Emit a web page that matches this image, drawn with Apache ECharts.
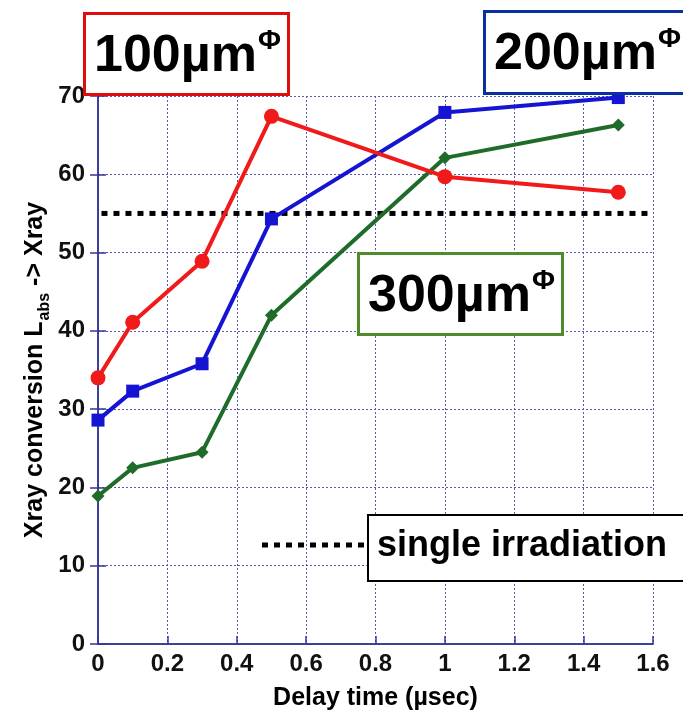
<!DOCTYPE html>
<html>
<head>
<meta charset="utf-8">
<script src="https://cdn.jsdelivr.net/npm/echarts@6/dist/echarts.min.js"></script>
<style>html,body{margin:0;padding:0;background:#fff}#c{width:683px;height:716px}</style>
</head>
<body>
<div id="c"></div>
<script>
// ---- data ----
var delays = [0, 0.1, 0.3, 0.5, 1.0, 1.5];
var um100 = [34.0, 41.1, 48.9, 67.4, 59.7, 57.7];
var um200 = [28.6, 32.3, 35.8, 54.3, 67.9, 69.8];
var um300 = [18.9, 22.5, 24.5, 42.0, 62.1, 66.3];
var singleIrradiation = 55;
var xTickLabels = ['0', '0.2', '0.4', '0.6', '0.8', '1', '1.2', '1.4', '1.6'];
var yTickLabels = ['0', '10', '20', '30', '40', '50', '60', '70'];

function pairs(ys) { return delays.map(function (x, i) { return [x, ys[i]]; }); }

var FONT = '"Liberation Sans", Arial, Helvetica, sans-serif';
var AXC = '#34349a';
var chart = echarts.init(document.getElementById('c'), null, { renderer: 'canvas' });

function boxLabel(x, y, w, h, color, main) {
  return [
    { type: 'rect', left: x, top: y, z: 100,
      shape: { width: w, height: h },
      style: { fill: '#fff', stroke: color, lineWidth: 3 } },
    { type: 'text', left: x + 11, top: y + 15, z: 101,
      style: {
        text: '{m|' + main + '}{s|Φ}',
        rich: {
          m: { fontFamily: FONT, fontWeight: 'bold', fontSize: 52, fill: '#000', verticalAlign: 'bottom', lineHeight: 56 },
          s: { fontFamily: FONT, fontWeight: 'bold', fontSize: 28, fill: '#000', verticalAlign: 'top', lineHeight: 56, padding: [0, 0, 24, 1] }
        }
      } }
  ];
}

var graphics = [].concat(
  boxLabel(83, 12, 204, 81, '#e00d0d', '100µm'),
  boxLabel(483, 10, 215, 82, '#0a2fa0', '200µm'),
  boxLabel(357, 252, 204, 81, '#4f8a2b', '300µm'),
  [
    { type: 'line', z: 100, shape: { x1: 262, y1: 545, x2: 368, y2: 545 },
      style: { stroke: '#000', lineWidth: 5, lineDash: [6, 6] } },
    { type: 'rect', left: 367, top: 514, z: 100, shape: { width: 330, height: 66 },
      style: { fill: '#fff', stroke: '#000', lineWidth: 2 } },
    { type: 'text', left: 377, top: 528, z: 101,
      style: { text: 'single irradiation', fontFamily: FONT, fontWeight: 'bold', fontSize: 36, fill: '#000' } },
    { type: 'text', z: 101, x: 38, y: 370, rotation: Math.PI / 2,
      style: {
        text: '{t|Xray conversion L}{b|abs}{t| -> Xray}',
        align: 'center', verticalAlign: 'middle',
        rich: {
          t: { fontFamily: FONT, fontWeight: 'bold', fontSize: 25, fill: '#000', verticalAlign: 'top', lineHeight: 30 },
          b: { fontFamily: FONT, fontWeight: 'bold', fontSize: 16, fill: '#000', verticalAlign: 'bottom', lineHeight: 30, padding: [14, 0, 0, 1] }
        }
      } }
  ]
);

var option = {
  backgroundColor: '#fff',
  animation: false,
  grid: { left: 98, right: 30, top: 96, bottom: 68, show: false },
  xAxis: [{
    type: 'value', min: 0, max: 1.6, interval: 0.2,
    name: 'Delay time (µsec)', nameLocation: 'middle', nameGap: 42,
    nameTextStyle: { fontFamily: FONT, fontWeight: 'bold', fontSize: 25, color: '#000' },
    axisLine: { show: true, lineStyle: { color: AXC, width: 1.5 } },
    axisTick: { show: true, inside: true, length: 8, lineStyle: { color: AXC, width: 1.5 } },
    axisLabel: { fontFamily: FONT, fontWeight: 'bold', fontSize: 24, color: '#111', margin: 8,
      formatter: function (v) { return xTickLabels[Math.round(v / 0.2)]; } },
    splitLine: { show: true, lineStyle: { color: '#5a5aa8', width: 1, type: [2, 2] } }
  }, {
    type: 'value', position: 'top', min: 0, max: 1.6, interval: 0.2,
    axisLine: { show: true, lineStyle: { color: AXC, width: 1.5 } },
    axisTick: { show: false }, axisLabel: { show: false }, splitLine: { show: false }
  }],
  yAxis: [{
    type: 'value', min: 0, max: 70, interval: 10,
    axisLine: { show: true, lineStyle: { color: AXC, width: 1.5 } },
    axisTick: { show: true, inside: true, length: 8, lineStyle: { color: AXC, width: 1.5 } },
    axisLabel: { fontFamily: FONT, fontWeight: 'bold', fontSize: 24, color: '#111', margin: 13,
      formatter: function (v) { return yTickLabels[Math.round(v / 10)]; } },
    splitLine: { show: true, lineStyle: { color: '#5a5aa8', width: 1, type: [2, 2] } }
  }, {
    type: 'value', position: 'right', min: 0, max: 70, interval: 10,
    axisLine: { show: true, lineStyle: { color: AXC, width: 1.5 } },
    axisTick: { show: true, inside: true, length: 8, lineStyle: { color: AXC, width: 1.5 } },
    axisLabel: { show: false }, splitLine: { show: false }
  }],
  series: [
    { name: 'single', type: 'line', data: [[0.01, singleIrradiation], [1.6, singleIrradiation]],
      showSymbol: false, lineStyle: { color: '#000', width: 5, type: [6, 6] }, z: 3, silent: true },
    { name: '300um', type: 'line', data: pairs(um300), symbol: 'diamond', symbolSize: 13,
      lineStyle: { color: '#1e6b2a', width: 4 }, itemStyle: { color: '#1e6b2a' }, z: 4 },
    { name: '200um', type: 'line', data: pairs(um200), symbol: 'rect', symbolSize: 13,
      lineStyle: { color: '#1414d2', width: 4 }, itemStyle: { color: '#1414d2' }, z: 5 },
    { name: '100um', type: 'line', data: pairs(um100), symbol: 'circle', symbolSize: 15,
      lineStyle: { color: '#f01a1a', width: 4 }, itemStyle: { color: '#f01a1a' }, z: 6 }
  ],
  graphic: graphics
};
chart.setOption(option);
</script>
</body>
</html>
